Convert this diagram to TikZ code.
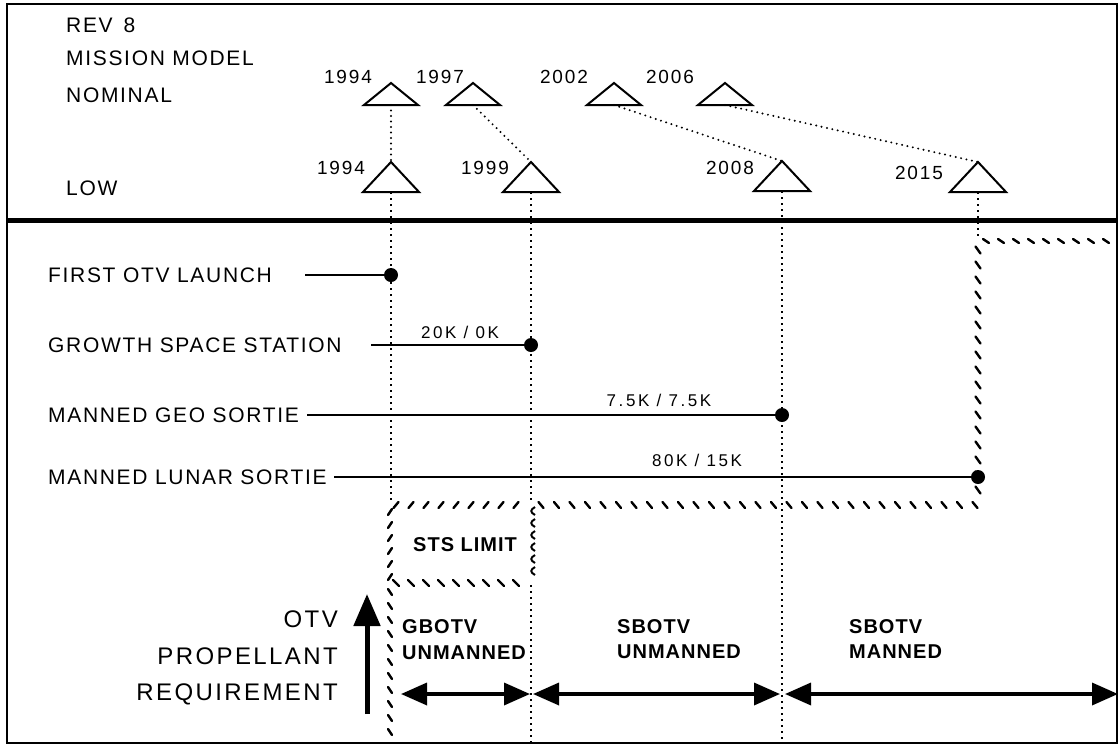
\documentclass[tikz,border=0pt]{standalone}
\usepackage{fontspec}
\setmainfont{Liberation Sans}
\newfontfamily\lblfont[LetterSpace=8]{Liberation Sans}
\newfontfamily\yearfont[LetterSpace=10]{Liberation Sans}
\newfontfamily\amtfont[LetterSpace=15]{Liberation Sans}
\newfontfamily\boldlblfont[LetterSpace=5]{Liberation Sans}
\usetikzlibrary{arrows.meta}
\tikzset{
  txt/.style={inner sep=0pt, text depth=0pt, font=\lblfont\fontsize{21}{24}\selectfont},
  yeartxt/.style={inner sep=0pt, text depth=0pt, font=\yearfont\fontsize{19}{22}\selectfont},
  amttxt/.style={inner sep=0pt, text depth=0pt, font=\amtfont\fontsize{17}{20}\selectfont},
  bigtxt/.style={inner sep=0pt, text depth=0pt, anchor=east, font=\yearfont\fontsize{24}{28}\selectfont},
  boldtxt/.style={inner sep=0pt, text depth=0pt, anchor=west, font=\boldlblfont\bfseries\fontsize{20}{24}\selectfont},
  triline/.style={line width=2pt, line join=miter},
  dotl/.style={line width=2.2pt, dash pattern=on 0pt off 5.5pt, line cap=round},
  vdot/.style={line width=1.8pt, dash pattern=on 2.2pt off 3.8pt},
  conn/.style={line width=1.8pt},
  dotnode/.style={circle, fill=black, inner sep=0pt, minimum size=14pt},
  hatch/.style={line width=2.4pt, line cap=round},
  dblarrow/.style={line width=3.5pt, {Triangle[length=26pt,width=22pt]}-{Triangle[length=26pt,width=22pt]}},
  nomtri/.pic={\draw[triline] (-27,11) -- (0,-11) -- (27,11) -- cycle;
     \coordinate (-apex) at (0,-11); \coordinate (-base) at (0,11);},
  lowtri/.pic={\draw[triline] (-28,15) -- (0,-15) -- (28,15) -- cycle;
     \coordinate (-apex) at (0,-15); \coordinate (-base) at (0,15);},
}
\begin{document}
\begin{tikzpicture}[x=1pt,y=-1pt]
\useasboundingbox (0,0) rectangle (1120,745);
\fill[white] (0,0) rectangle (1120,745);
% frame
\draw[line width=2pt] (7,4) rectangle (1117,743);
\draw[line width=5pt] (7,220) -- (1117,220);

% top-left labels
\node[txt, anchor=west] (rev) at (66,25) {REV\, 8};
\node[txt, anchor=west] (mm) at (66,58) {MISSION MODEL};
\node[txt, anchor=west] (nom) at (66,95) {NOMINAL};
\node[txt, anchor=west] (low) at (66,188) {LOW};

% triangles
\pic (n94) at (391,94) {nomtri};
\pic (n97) at (473,94) {nomtri};
\pic (n02) at (614,94) {nomtri};
\pic (n06) at (725,94) {nomtri};
\pic (l94) at (391,177) {lowtri};
\pic (l99) at (531,177) {lowtri};
\pic (l08) at (782,176) {lowtri};
\pic (l15) at (978,177) {lowtri};

% year labels
\node[yeartxt] (y1) at (348,77) {1994};
\node[yeartxt] (y2) at (440,77) {1997};
\node[yeartxt] (y3) at (564,77) {2002};
\node[yeartxt] (y4) at (670,77) {2006};
\node[yeartxt] (y5) at (341,168) {1994};
\node[yeartxt] (y6) at (485,168) {1999};
\node[yeartxt] (y7) at (730,168) {2008};
\node[yeartxt] (y8) at (919,173) {2015};

% dotted links between rows
\draw[dotl] (n94-base) -- (l94-apex);
\draw[dotl] (n97-base) -- (l99-apex);
\draw[dotl] (n02-base) -- (l08-apex);
\draw[dotl] (n06-base) -- (l15-apex);

% vertical dotted lines
\coordinate (c1) at (391,503);
\coordinate (c2a) at (531,503);
\coordinate (c2b) at (531,585);
\coordinate (c2c) at (531,742);
\coordinate (c3) at (782,742);
\coordinate (c4) at (978,238);
\draw[vdot] (l94-base) -- (c1);
\draw[vdot] (l99-base) -- (c2a);
\draw[vdot] (c2b) -- (c2c);
\draw[vdot] (l08-base) -- (c3);
\draw[vdot] (l15-base) -- (c4);

% missions
\node[txt, anchor=west] (m1) at (48,275) {FIRST OTV LAUNCH};
\node[txt, anchor=west] (m2) at (48,345) {GROWTH SPACE STATION};
\node[txt, anchor=west] (m3) at (48,415) {MANNED GEO SORTIE};
\node[txt, anchor=west] (m4) at (48,477) {MANNED LUNAR SORTIE};
\coordinate (s1) at (305,275);
\coordinate (s2) at (371,345);
\coordinate (s3) at (307,415);
\coordinate (s4) at (334,477);
\node[dotnode] (d1) at (391,275) {};
\node[dotnode] (d2) at (531,345) {};
\node[dotnode] (d3) at (782,415) {};
\node[dotnode] (d4) at (978,477) {};
\draw[conn] (s1) -- (d1);
\draw[conn] (s2) -- (d2);
\draw[conn] (s3) -- (d3);
\draw[conn] (s4) -- (d4);
\node[amttxt] (k2) at (460,332) {20K / 0K};
\node[amttxt] (k3) at (659,400) {7.5K / 7.5K};
\node[amttxt] (k4) at (697,460) {80K / 15K};

% hatched boundaries
\foreach \x in {541,556.5,...,975} \draw[hatch] ({\x-2.5},502) -- ({\x+2.5},508);
\foreach \x in {396,411,...,528} \draw[hatch] ({\x-2.5},508) -- ({\x+2.5},502);
\foreach \y in {250,265,...,500} \draw[hatch] (975.5,{\y-3.5}) -- (980.5,{\y+3.5});
\foreach \x in {986,1001,...,1110} \draw[hatch] ({\x-3},239) -- ({\x+3},243);
\foreach \x in {396,411,...,528} \draw[hatch] ({\x-3},580) -- ({\x+3},586);
\foreach \y in {512,525,...,577} \draw[hatch] (388,{\y+3}) -- (392,{\y-3});
\foreach \y in {592,606,...,738} \draw[hatch] (388,{\y-3}) -- (392,{\y+3});
\foreach \y in {511,523,...,580} \draw[line width=2pt] (535,{\y-4}) .. controls (530,{\y-1}) and (530,{\y+1}) .. (535,{\y+4});

% region labels
\node[boldtxt] (sts) at (413,545) {STS LIMIT};
\node[boldtxt] (g1) at (402,627) {GBOTV};
\node[boldtxt] (g2) at (402,653) {UNMANNED};
\node[boldtxt] (su1) at (617,627) {SBOTV};
\node[boldtxt] (su2) at (617,652) {UNMANNED};
\node[boldtxt] (sm1) at (849,627) {SBOTV};
\node[boldtxt] (sm2) at (849,652) {MANNED};

% double arrows
\coordinate (a1l) at (401,694);
\coordinate (a1r) at (530,694);
\coordinate (a2l) at (533,694);
\coordinate (a2r) at (780,694);
\coordinate (a3l) at (785,694);
\coordinate (a3r) at (1118,694);
\draw[dblarrow] (a1l) -- (a1r);
\draw[dblarrow] (a2l) -- (a2r);
\draw[dblarrow] (a3l) -- (a3r);

% OTV propellant requirement
\node[bigtxt] (o1) at (338,619) {OTV};
\node[bigtxt] (o2) at (338,656) {PROPELLANT};
\node[bigtxt] (o3) at (338,692) {REQUIREMENT};
\coordinate (ob) at (367,714);
\coordinate (ot) at (367,594);
\draw[line width=5pt, -{Triangle[length=32pt,width=26pt]}] (ob) -- (ot);
\end{tikzpicture}
\end{document}
